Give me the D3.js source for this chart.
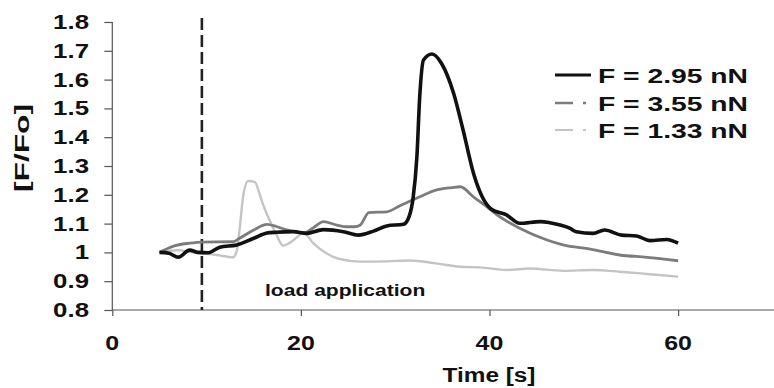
<!DOCTYPE html>
<html>
<head>
<meta charset="utf-8">
<script src="https://cdn.jsdelivr.net/npm/d3@7"></script>
<style>
  html, body { margin: 0; padding: 0; background: #fff; }
  svg { display: block; }
  text { font-family: "Liberation Sans", Arial, Helvetica, sans-serif; font-weight: bold; fill: #111; }
</style>
</head>
<body>
<svg id="chart" width="774" height="388"></svg>
<script>
// ---- data ----
const seriesNames = ["F = 2.95 nN", "F = 3.55 nN", "F = 1.33 nN"];
const xTicks = [0, 20, 40, 60];
const yTicks = [0.8, 0.9, 1, 1.1, 1.2, 1.3, 1.4, 1.5, 1.6, 1.7, 1.8];
const loadTime = 9.5;

const tBlack = [5, 6, 7, 8.2, 9.1, 10.2, 11.4, 13.2, 15, 16.4, 17.4, 19.2, 20.6, 22.4, 24.5, 26.1, 27.7, 29.1, 30.9, 31.5, 31.9, 32.3, 32.6, 33.0, 33.9, 34.9, 36.2, 37.2, 38.3, 39.2, 40.2, 41.8, 43.2, 45.4, 46.4, 48.5, 49.2, 51.0, 52.2, 54.0, 55.6, 57.0, 58.8, 60];
const vBlack = [1.0, 0.997, 0.983, 1.008, 1.0, 0.999, 1.018, 1.026, 1.049, 1.067, 1.07, 1.072, 1.066, 1.079, 1.072, 1.06, 1.074, 1.092, 1.098, 1.127, 1.19, 1.332, 1.54, 1.668, 1.689, 1.657, 1.552, 1.425, 1.275, 1.195, 1.15, 1.13, 1.101, 1.107, 1.103, 1.084, 1.072, 1.066, 1.078, 1.06, 1.057, 1.041, 1.045, 1.032];

const tMid = [5, 6.5, 8.2, 9.5, 12.8, 13.5, 15.0, 16.4, 17.4, 18.5, 20.3, 21.3, 22.4, 23.8, 24.9, 25.7, 26.3, 27.2, 29.1, 30.5, 32.6, 34.4, 36.0, 36.9, 38.3, 39.7, 40.8, 43.2, 46.1, 47.8, 50.7, 53.8, 56.7, 60];
const vMid = [1.0, 1.022, 1.032, 1.036, 1.037, 1.049, 1.078, 1.097, 1.09, 1.078, 1.068, 1.085, 1.107, 1.095, 1.089, 1.089, 1.095, 1.138, 1.141, 1.162, 1.193, 1.217, 1.225, 1.228, 1.193, 1.159, 1.13, 1.084, 1.043, 1.026, 1.011, 0.991, 0.983, 0.971];

const tLight = [5, 6, 7, 8, 9, 10, 11.1, 12.8, 13.2, 13.5, 13.9, 14.4, 15.1, 15.6, 16.0, 16.7, 17.4, 18.1, 19.2, 20.3, 21.3, 22.7, 24.0, 26.3, 29.1, 31.6, 34.3, 36.9, 39.0, 41.8, 44.3, 47.8, 51.0, 53.8, 56.7, 60];
const vLight = [1.0, 1.005, 1.008, 1.003, 0.998, 0.995, 0.991, 0.983, 1.005, 1.08, 1.2, 1.248, 1.245, 1.205, 1.165, 1.11, 1.062, 1.024, 1.042, 1.068, 1.032, 0.997, 0.978, 0.968, 0.969, 0.972, 0.962, 0.95, 0.948, 0.939, 0.944, 0.936, 0.939, 0.933, 0.925, 0.916];

// ---- layout ----
const svg = d3.select("#chart");
const x = d3.scaleLinear().domain([0, 70]).range([112.3, 772.4]);
const y = d3.scaleLinear().domain([0.8, 1.8]).range([310, 22]);

function label(px, py, str, size, anchor, sx) {
  svg.append("text")
    .attr("transform", `translate(${px},${py}) scale(${sx},1)`)
    .attr("text-anchor", anchor)
    .attr("font-size", size)
    .text(str);
}

// axes
const yAxis = d3.axisLeft(y).tickValues(yTicks).tickSize(8).tickFormat("");
const gy = svg.append("g").attr("transform", `translate(${x(0)},0)`).call(yAxis);
const xAxis = d3.axisBottom(x).tickValues(xTicks).tickSize(6).tickFormat("");
const gx = svg.append("g").attr("transform", `translate(0,${y(0.8)})`).call(xAxis);
gx.select(".domain").attr("d", `M${x(0)},0H774`);
gy.select(".domain").attr("d", `M0,${y(1.8)}V${y(0.8)}`);
svg.selectAll(".domain, .tick line").attr("stroke", "#555").attr("stroke-width", 1.2);

yTicks.forEach(v => label(89, y(v) + 7, String(+v.toFixed(1)), 20.5, "end", 1.26));
xTicks.forEach(v => label(x(v), 350, String(v), 20, "middle", 1.25));

label(489, 382, "Time [s]", 19.5, "middle", 1.25);

svg.append("text")
  .attr("transform", `translate(29,148) rotate(-90)`)
  .attr("text-anchor", "middle")
  .attr("font-size", 20)
  .attr("textLength", 88)
  .attr("lengthAdjust", "spacingAndGlyphs")
  .text("[F/Fo]");

// dashed load line
svg.append("line")
  .attr("x1", x(loadTime)).attr("x2", x(loadTime))
  .attr("y1", 18).attr("y2", y(0.8))
  .attr("stroke", "#222").attr("stroke-width", 2.6)
  .attr("stroke-dasharray", "12,5");

label(265, 296, "load application", 17, "start", 1.24);

// series
const series = [
  { t: tLight, v: vLight, color: "#c4c4c4", w: 2.4 },
  { t: tMid, v: vMid, color: "#7c7c7c", w: 2.8 },
  { t: tBlack, v: vBlack, color: "#111111", w: 3.6 },
];
const line = d3.line().x(d => x(d[0])).y(d => y(d[1])).curve(d3.curveMonotoneX);
series.forEach(s => {
  svg.append("path")
    .datum(s.t.map((t, i) => [t, s.v[i]]))
    .attr("fill", "none")
    .attr("stroke", s.color)
    .attr("stroke-width", s.w)
    .attr("stroke-linejoin", "round")
    .attr("d", line);
});

// legend
const legendStyles = [
  { color: "#111111", w: 3, dash: null },
  { color: "#7c7c7c", w: 2.5, dash: "18,10,3,20" },
  { color: "#c4c4c4", w: 2.2, dash: "18,10,3,20" },
];
const legendY = [75, 103, 130];
seriesNames.forEach((name, i) => {
  const ln = svg.append("line")
    .attr("x1", 555).attr("x2", 591)
    .attr("y1", legendY[i]).attr("y2", legendY[i])
    .attr("stroke", legendStyles[i].color)
    .attr("stroke-width", legendStyles[i].w);
  if (legendStyles[i].dash) ln.attr("stroke-dasharray", legendStyles[i].dash);
  svg.append("text")
    .attr("x", 598).attr("y", legendY[i] + 7.5)
    .attr("font-size", 19.5)
    .attr("textLength", 150)
    .attr("lengthAdjust", "spacingAndGlyphs")
    .text(name);
});
</script>
</body>
</html>
